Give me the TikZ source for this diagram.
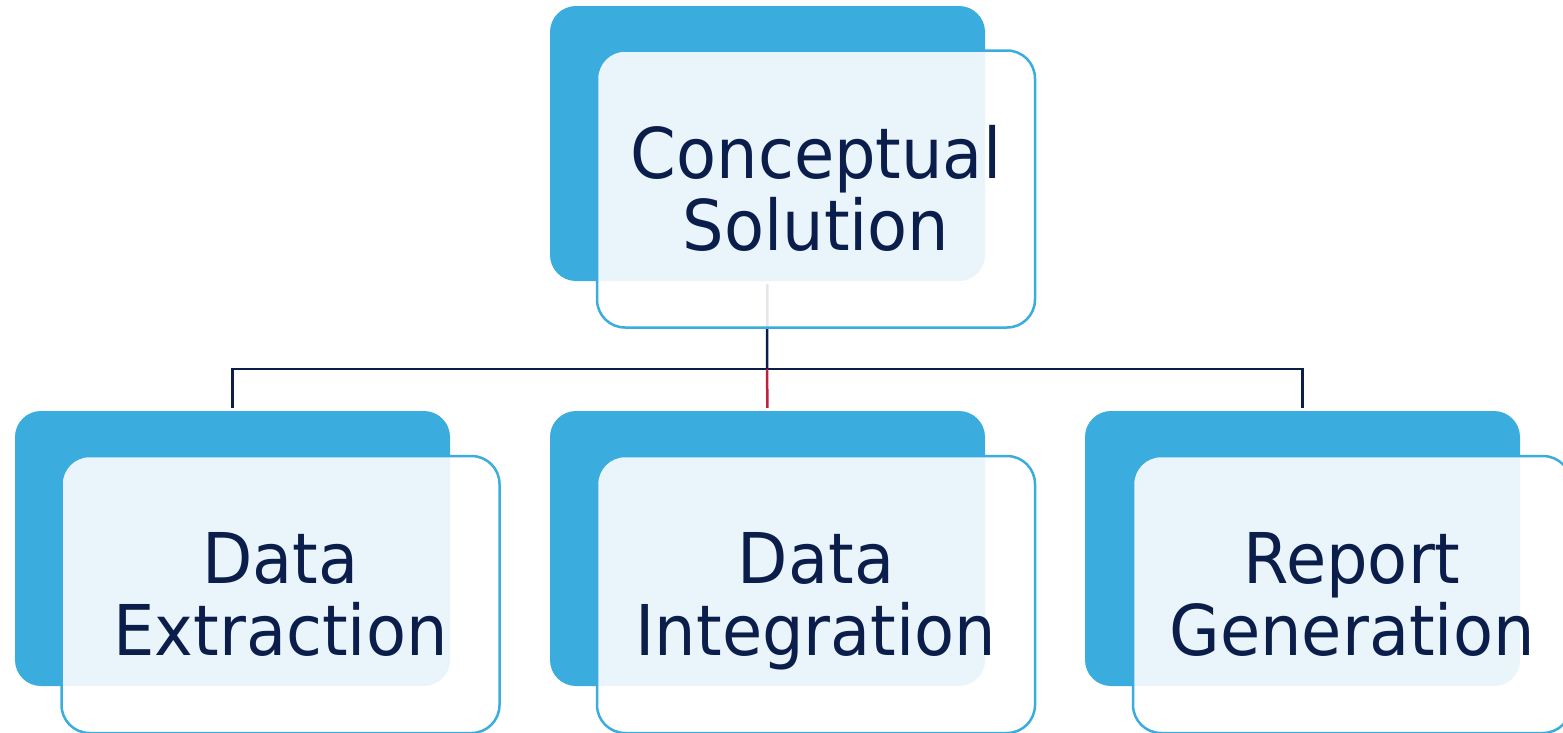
\documentclass[tikz,border=0pt]{standalone}
\usepackage{fontspec}
\setmainfont{DejaVu Sans}[FakeStretch=0.935]
\definecolor{sblue}{HTML}{3AACDE}
\definecolor{navy}{HTML}{0B1E4B}
\definecolor{crimson}{HTML}{C0203F}
\newcommand{\ph}{\vphantom{lg}}
\tikzset{
  bluebox/.style={fill=sblue, draw=none, rounded corners=26pt, minimum width=435pt, minimum height=275pt, inner sep=0pt},
  frontbox/.style={fill=white, fill opacity=0.89, draw=sblue, draw opacity=1, line width=2.5pt, rounded corners=28pt, minimum width=438pt, minimum height=277pt, inner sep=0pt},
  lbl/.style={text=navy, align=center, inner sep=0pt, font=\fontsize{70}{72}\selectfont},
  conn/.style={draw=navy, line width=2.5pt},
}
\begin{document}
\begin{tikzpicture}[x=1pt, y=-1pt]
\useasboundingbox (0,0) rectangle (1563,732);
% top
\node[bluebox] (b0) at (767.5,143.5) {};
\coordinate (j) at (767,369);
\draw[conn, shorten <=3pt] (b0.south) -- (j);
\node[frontbox] (f0) at (816,189) {};
% bottom blue boxes
\node[bluebox] (b1) at (232.5,548.5) {};
\node[bluebox] (b2) at (767.5,548.5) {};
\node[bluebox] (b3) at (1302.5,548.5) {};
\draw[conn, shorten >=3pt] (j) -| (b1.north);
\draw[conn, shorten >=3pt] (j) -| (b3.north);
\draw[conn, draw=crimson, shorten >=3pt] (j) -- (b2.north);
% front boxes
\node[frontbox] (f1) at (280.5,594.5) {};
\node[frontbox] (f2) at (816,594.5) {};
\node[frontbox] (f3) at (1352,594.5) {};
% labels
\node[lbl] (t0) at ([yshift=-6pt]f0.center) {Conceptual\ph\\Solution\ph};
\node[lbl] (t1) at ([yshift=-6pt]f1.center) {Data\ph\\Extraction\ph};
\node[lbl] (t2) at ([yshift=-6pt]f2.center) {Data\ph\\Integration\ph};
\node[lbl] (t3) at ([yshift=-6pt]f3.center) {Report\ph\\Generation\ph};
\end{tikzpicture}
\end{document}
